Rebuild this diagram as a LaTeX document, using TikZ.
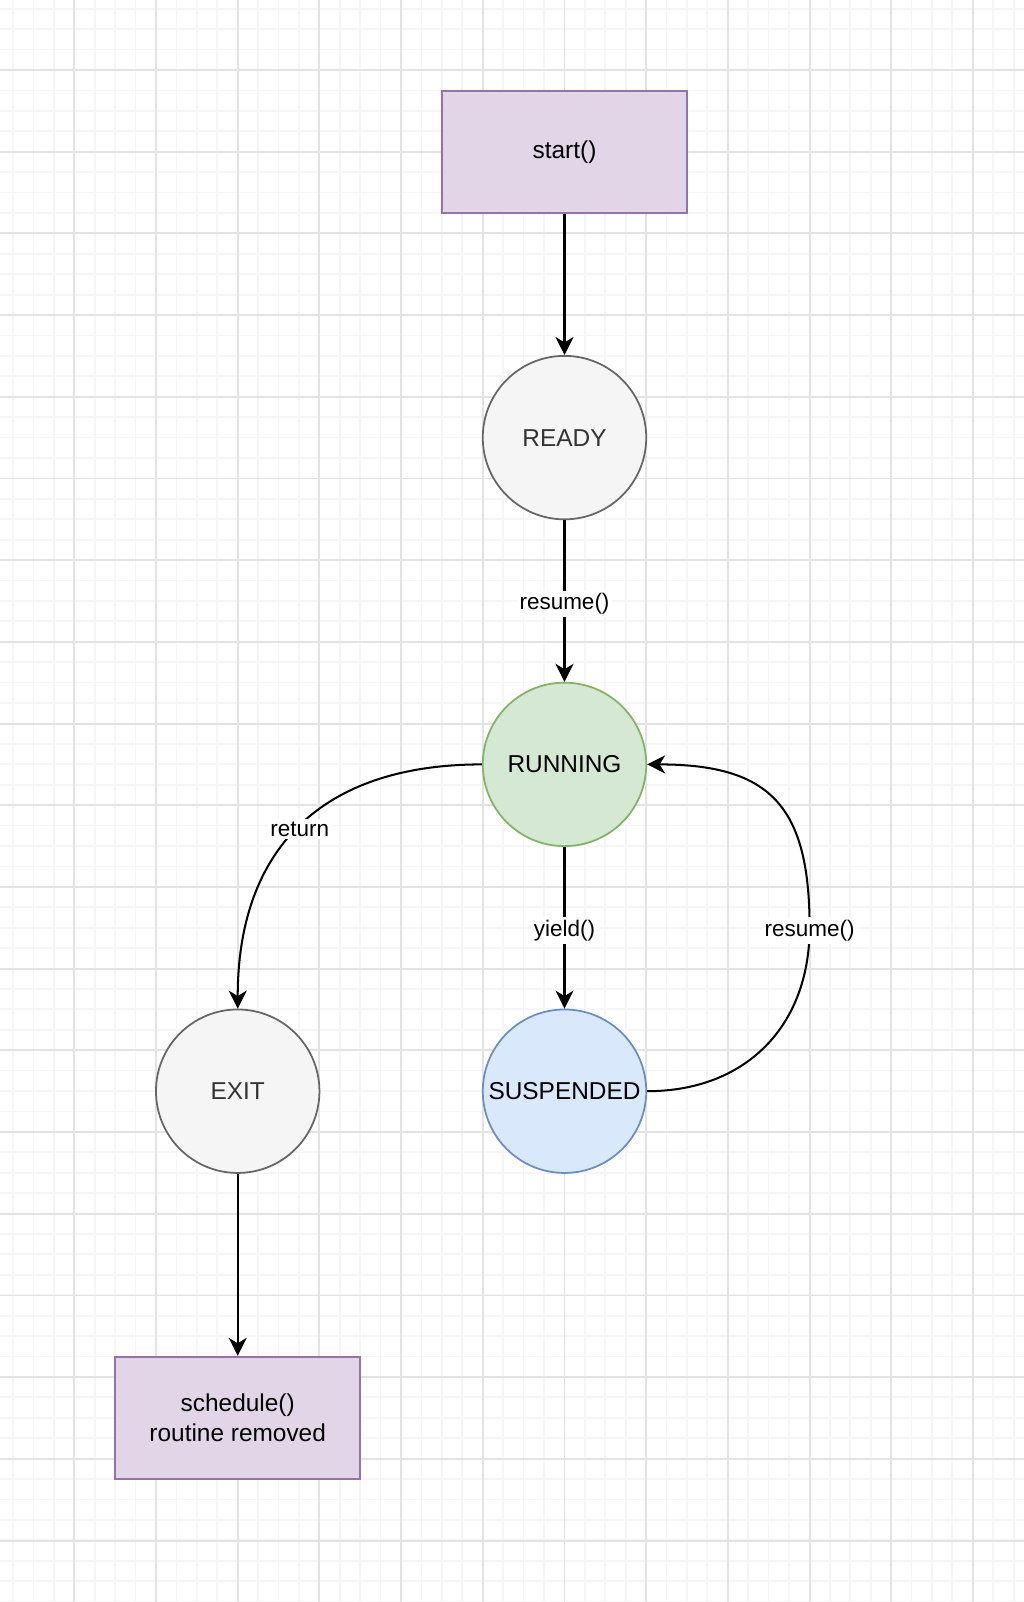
\documentclass[tikz,border=0pt]{standalone}
\usepackage{fontspec}
\setmainfont{Liberation Sans}
\usetikzlibrary{arrows.meta}
\definecolor{gridmajor}{HTML}{E3E3E3}
\definecolor{gridminor}{HTML}{F6F6F6}
\definecolor{boxfill}{HTML}{E1D5E7}
\definecolor{boxline}{HTML}{9673A6}
\definecolor{greyfill}{HTML}{F5F5F5}
\definecolor{greyline}{HTML}{666666}
\definecolor{greytext}{HTML}{333333}
\definecolor{runfill}{HTML}{D5E8D4}
\definecolor{runline}{HTML}{82B366}
\definecolor{suspfill}{HTML}{DAE8FC}
\definecolor{suspline}{HTML}{6C8EBF}
\tikzset{
  callbox/.style={rectangle, draw=boxline, fill=boxfill, line width=1.1pt, minimum width=4.9cm, minimum height=2.45cm, align=center, font=\fontsize{13.9}{17}\selectfont},
  statenode/.style={circle, line width=1pt, minimum size=3.27cm, inner sep=0pt, font=\fontsize{13.9}{17}\selectfont},
  flow/.style={line width=1.15pt, -{Stealth[length=0.36cm,width=0.36cm,inset=0.11cm]}},
  edgelabel/.style={fill=white, inner sep=1.5pt, yshift=-1.5pt, font=\fontsize{12.8}{15}\selectfont}
}
\begin{document}
\begin{tikzpicture}[x=0.02cm, y=-0.02cm]
			%%%%% GRID %%%%%
			\useasboundingbox (0,0) rectangle (1024,1602);
			\fill[white] (0,0) rectangle (1024,1602);
			\foreach \k in {0,...,49}
				\draw[gridminor, line width=1pt] ({13.04+20.42*\k},0) -- ({13.04+20.42*\k},1602);
			\foreach \k in {0,...,78}
				\draw[gridminor, line width=1pt] (0,{8.74+20.42*\k}) -- (1024,{8.74+20.42*\k});
			\foreach \k in {0,...,11}
				\draw[gridmajor, line width=1.1pt] ({74.3+81.7*\k},0) -- ({74.3+81.7*\k},1602);
			\foreach \k in {0,...,18}
				\draw[gridmajor, line width=1.1pt] (0,{70+81.7*\k}) -- (1024,{70+81.7*\k});
			
			%%%%% STATES %%%%%
			\node[callbox] (start) at (564.5,152) {start()};
			\node[statenode, draw=greyline, fill=greyfill, text=greytext] (ready) at (564.5,437.6) {READY};
			\node[statenode, draw=runline, fill=runfill] (running) at (564.5,764.4) {RUNNING};
			\node[statenode, draw=suspline, fill=suspfill] (suspended) at (564.5,1091.2) {SUSPENDED};
			\node[statenode, draw=greyline, fill=greyfill, text=greytext] (exit) at (237.7,1091.2) {EXIT};
			\node[callbox] (sched) at (237.7,1418) {schedule()\\routine removed};
			\coordinate (bend) at (809.6,927.8);
			
			%%%%% TRANSITIONS %%%%%
			\draw[flow] (start) -- (ready);
			\draw[flow] (ready) -- node[edgelabel] {resume()} (running);
			\draw[flow] (running) -- node[edgelabel] {yield()} (suspended);
			\draw[flow] (suspended.east) .. controls +(99,0) and +(0,98) .. (bend) node[edgelabel] {resume()}
				.. controls +(0,-122) and +(123,0) .. (running.east);
			\draw[flow] (running.west) .. controls +(-160,0) and +(0,-160) .. (exit.north) node[edgelabel, pos=0.5] {return};
			\draw[flow] (exit) -- (sched);
\end{tikzpicture}
\end{document}
